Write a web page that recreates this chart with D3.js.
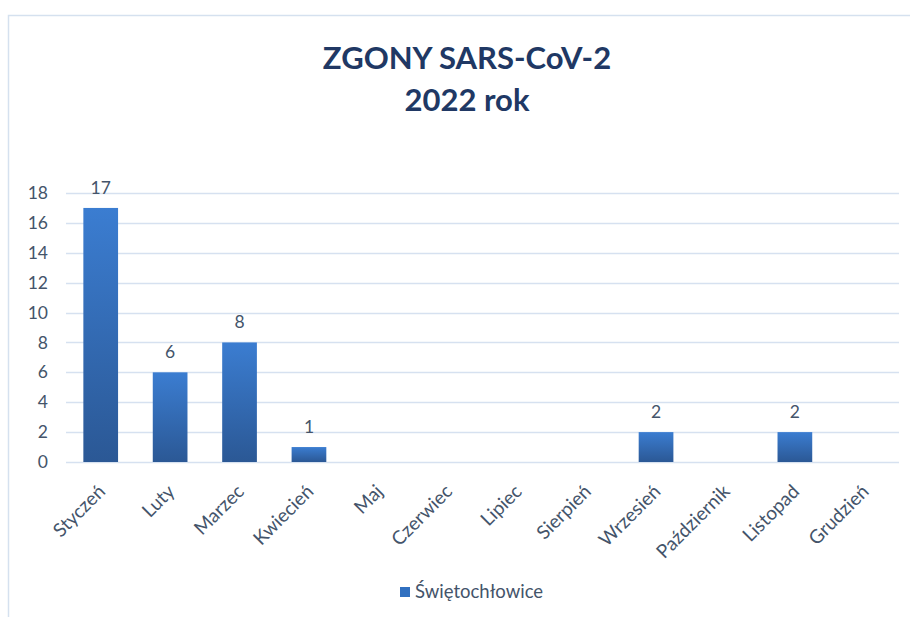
<!DOCTYPE html>
<html>
<head>
<meta charset="utf-8">
<script src="https://cdn.jsdelivr.net/npm/d3@7"></script>
<style>
  body { margin: 0; background: #fff; }
  text { font-family: Lato, "Open Sans", sans-serif; }
</style>
</head>
<body>
<div id="chart-area"></div>
<script>
var months = ["Styczeń", "Luty", "Marzec", "Kwiecień", "Maj", "Czerwiec", "Lipiec",
              "Sierpień", "Wrzesień", "Październik", "Listopad", "Grudzień"];
var deaths = [17, 6, 8, 1, 0, 0, 0, 0, 2, 0, 2, 0];
var yTicks = [0, 2, 4, 6, 8, 10, 12, 14, 16, 18];
var seriesName = "Świętochłowice";
var titleLines = ["ZGONY SARS-CoV-2", "2022 rok"];

var width = 910,
    height = 617;

var margin = {top: 193, left: 66, right: 11, bottom: 155};

var data = months.map(function(m, i) {
    return {month: m, value: deaths[i]};
});

var svg = d3.select("#chart-area")
    .append("svg")
        .attr("width", width)
        .attr("height", height);

// gradient for the bars
var grad = svg.append("defs").append("linearGradient")
    .attr("id", "barGrad")
    .attr("x1", 0).attr("y1", 0).attr("x2", 0).attr("y2", 1);
grad.append("stop").attr("offset", "0%").attr("stop-color", "#3b7dd1");
grad.append("stop").attr("offset", "100%").attr("stop-color", "#2b5895");

// chart frame
svg.append("rect")
    .attr("x", 8.5).attr("y", 15.5)
    .attr("width", 920).attr("height", 620)
    .attr("fill", "none")
    .attr("stroke", "#d5e1ef")
    .attr("stroke-width", 1.5);

// title
svg.selectAll(".title")
    .data(titleLines)
  .enter().append("text")
    .attr("class", "title")
    .attr("x", 467)
    .attr("y", function(d, i) { return 69 + i * 42; })
    .attr("text-anchor", "middle")
    .attr("font-size", 31)
    .attr("font-weight", "bold")
    .attr("fill", "#203864")
    .text(function(d) { return d; });

var x = d3.scaleBand()
    .domain(months)
    .range([margin.left, width - margin.right])
    .paddingInner(0.5)
    .paddingOuter(0.25);

var y = d3.scaleLinear()
    .domain([0, 18])
    .range([height - margin.bottom, margin.top]);

// gridlines
svg.append("g")
    .selectAll("line")
    .data(yTicks)
  .enter().append("line")
    .attr("x1", margin.left)
    .attr("x2", width - margin.right)
    .attr("y1", function(d) { return Math.round(y(d)) + 0.5; })
    .attr("y2", function(d) { return Math.round(y(d)) + 0.5; })
    .attr("stroke", "#d6e1f0")
    .attr("stroke-width", 1.5);

// y axis labels
var yAxis = d3.axisLeft(y).tickValues(yTicks).tickSize(0).tickPadding(18);
var gy = svg.append("g")
    .attr("transform", "translate(" + margin.left + ",0)")
    .call(yAxis);
gy.select(".domain").remove();
gy.selectAll("text")
    .attr("font-size", 17.5)
    .attr("fill", "#44546a")
    .style("font-family", "Lato, 'Open Sans', sans-serif");

var nonZero = data.filter(function(d) { return d.value > 0; });

// bars
svg.selectAll(".bar")
    .data(nonZero)
  .enter().append("rect")
    .attr("class", "bar")
    .attr("x", function(d) { return x(d.month); })
    .attr("width", x.bandwidth())
    .attr("y", function(d) { return y(d.value); })
    .attr("height", function(d) { return y(0) - y(d.value); })
    .attr("fill", "url(#barGrad)");

// data labels
svg.selectAll(".val")
    .data(nonZero)
  .enter().append("text")
    .attr("class", "val")
    .attr("x", function(d) { return x(d.month) + x.bandwidth() / 2; })
    .attr("y", function(d) { return y(d.value) - 14; })
    .attr("font-size", 17.5)
    .attr("fill", "#44546a")
    .attr("text-anchor", "middle")
    .text(function(d) { return d.value; });

// x axis labels
var xAxis = d3.axisBottom(x).tickSize(0).tickPadding(0);
var gx = svg.append("g")
    .attr("transform", "translate(0," + (height - margin.bottom) + ")")
    .call(xAxis);
gx.select(".domain").remove();
gx.selectAll("text")
    .attr("font-size", 19)
    .attr("fill", "#44546a")
    .style("font-family", "Lato, 'Open Sans', sans-serif")
    .attr("text-anchor", "end")
    .attr("dy", "0.35em")
    .attr("transform", "translate(1,26) rotate(-45)");

// legend
var legend = svg.append("g").attr("transform", "translate(400,587)");
legend.append("rect")
    .attr("width", 10).attr("height", 10)
    .attr("fill", "#3170c0");
legend.append("text")
    .attr("x", 15).attr("y", 11)
    .attr("font-size", 18.5)
    .attr("fill", "#44546a")
    .text(seriesName);
</script>
</body>
</html>
